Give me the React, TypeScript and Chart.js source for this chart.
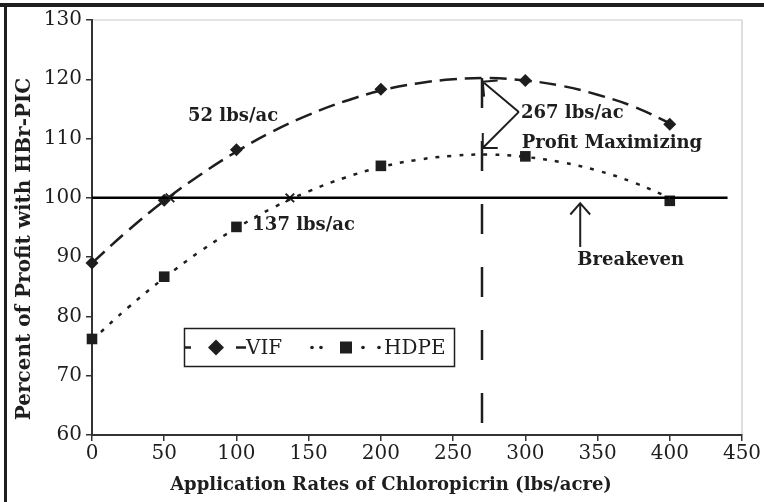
import React, { useEffect, useRef } from "react";
import { Chart, registerables } from "chart.js";

Chart.register(...registerables);

// ---------- data ----------
const rates = [0, 50, 100, 200, 300, 400];
const vifValues = [89.0, 99.6, 108.1, 118.3, 119.8, 112.4];
const hdpeValues = [76.2, 86.7, 95.1, 105.4, 107.0, 99.5];

// fitted curves as drawn in the picture (read every 25 lbs/acre)
const curveRates = [0, 25, 50, 75, 100, 125, 150, 175, 200, 225, 250, 275, 300, 325, 350, 375, 400];
const vifCurve = [89.0, 94.5, 99.5, 103.9, 107.8, 111.2, 114.0, 116.3, 118.1, 119.3, 120.0, 120.2, 119.8, 118.9, 117.4, 115.4, 112.6];
const hdpeCurve = [76.0, 81.5, 86.5, 91.0, 94.9, 98.3, 101.1, 103.4, 105.2, 106.4, 107.1, 107.3, 106.9, 106.0, 104.6, 102.6, 100.0];

const breakevenRates = [0, 440];
const breakevenValues = [100, 100];

const crossRates = [54, 137];
const crossValues = [100, 100];

const optimumRates = [270, 270];
const optimumValues = [120.2, 60];

const xMin = 0;
const xMax = 450;
const xStep = 50;
const yMin = 60;
const yMax = 130;
const yStep = 10;

const xTitle = "Application Rates of Chloropicrin (lbs/acre)";
const yTitle = "Percent of Profit with HBr-PIC";
const seriesNames = ["VIF", "HDPE"];

// annotation texts, anchored (left edge, vertical middle) in data units
const noteTexts = ["52 lbs/ac", "137 lbs/ac", "267 lbs/ac", "Profit Maximizing", "Breakeven"];
const noteX = [66.5, 111, 297, 297.5, 336];
const noteY = [113.8, 95.3, 114.2, 109.2, 89.4];

// arrows: tail -> tip in data units
const arrowTailX = [295.5, 295.5, 338];
const arrowTailY = [114.5, 114.5, 91.7];
const arrowTipX = [270.5, 270.5, 338];
const arrowTipY = [119.6, 108.4, 99.1];

const FONT = "'DejaVu Serif', serif";
const INK = "#1e1e1e";

function toPts(xs: number[], ys: number[]) {
  return xs.map((x, i) => ({ x, y: ys[i] }));
}

function drawArrow(ctx: CanvasRenderingContext2D, x1: number, y1: number, x2: number, y2: number, len: number, ang: number) {
  const a = Math.atan2(y2 - y1, x2 - x1);
  ctx.beginPath();
  ctx.moveTo(x1, y1);
  ctx.lineTo(x2, y2);
  ctx.moveTo(x2 - len * Math.cos(a - ang), y2 - len * Math.sin(a - ang));
  ctx.lineTo(x2, y2);
  ctx.lineTo(x2 - len * Math.cos(a + ang), y2 - len * Math.sin(a + ang));
  ctx.stroke();
}

const decorPlugin = {
  id: "decor",
  beforeDraw(chart: any) {
    const ctx = chart.ctx;
    ctx.save();
    ctx.fillStyle = "#ffffff";
    ctx.fillRect(0, 0, chart.width, chart.height);
    const { left, right, top, bottom } = chart.chartArea;
    ctx.strokeStyle = "#c9c9c9";
    ctx.lineWidth = 1.2;
    ctx.beginPath();
    ctx.moveTo(left, top);
    ctx.lineTo(right, top);
    ctx.lineTo(right, bottom);
    ctx.stroke();
    ctx.restore();
  },
  afterDraw(chart: any) {
    const ctx: CanvasRenderingContext2D = chart.ctx;
    const xs = chart.scales.x;
    const ys = chart.scales.y;
    ctx.save();
    // outer frame (top and left)
    ctx.fillStyle = INK;
    ctx.fillRect(0, 3, chart.width, 4);
    ctx.fillRect(4, 3, 3, chart.height);

    // axis titles
    ctx.fillStyle = INK;
    ctx.font = `bold 18px ${FONT}`;
    ctx.textAlign = "center";
    ctx.textBaseline = "alphabetic";
    ctx.fillText(xTitle, 391, 490);
    ctx.save();
    ctx.translate(30, 249);
    ctx.rotate(-Math.PI / 2);
    ctx.font = `bold 20px ${FONT}`;
    ctx.fillText(yTitle, 0, 0);
    ctx.restore();

    // annotations
    ctx.textAlign = "left";
    ctx.textBaseline = "middle";
    ctx.font = `bold 18px ${FONT}`;
    noteTexts.forEach((t, i) => {
      ctx.fillText(t, xs.getPixelForValue(noteX[i]), ys.getPixelForValue(noteY[i]));
    });

    // arrows
    ctx.strokeStyle = INK;
    ctx.lineWidth = 2;
    ctx.lineCap = "butt";
    arrowTailX.forEach((_, i) => {
      drawArrow(
        ctx,
        xs.getPixelForValue(arrowTailX[i]),
        ys.getPixelForValue(arrowTailY[i]),
        xs.getPixelForValue(arrowTipX[i]),
        ys.getPixelForValue(arrowTipY[i]),
        15,
        i === 2 ? 0.72 : 0.78
      );
    });

    // legend box
    const bx = 184, by = 328, bw = 270, bh = 38;
    ctx.fillStyle = "#ffffff";
    ctx.fillRect(bx, by, bw, bh);
    ctx.strokeStyle = INK;
    ctx.lineWidth = 1.5;
    ctx.strokeRect(bx + 0.5, by + 0.5, bw, bh);
    const my = by + bh / 2 + 0.5;
    // VIF sample
    ctx.lineWidth = 2.5;
    ctx.beginPath();
    ctx.moveTo(bx + 1, my);
    ctx.lineTo(bx + 7, my);
    ctx.moveTo(bx + 52, my);
    ctx.lineTo(bx + 62, my);
    ctx.stroke();
    ctx.fillStyle = INK;
    ctx.beginPath();
    const dx = bx + 32;
    ctx.moveTo(dx, my - 8);
    ctx.lineTo(dx + 8, my);
    ctx.lineTo(dx, my + 8);
    ctx.lineTo(dx - 8, my);
    ctx.closePath();
    ctx.fill();
    ctx.font = `20px ${FONT}`;
    ctx.textBaseline = "middle";
    ctx.fillText(seriesNames[0], bx + 62, my + 1);
    // HDPE sample
    [bx + 128, bx + 137, bx + 179, bx + 195].forEach((cx) => {
      ctx.beginPath();
      ctx.arc(cx, my, 1.8, 0, Math.PI * 2);
      ctx.fill();
    });
    ctx.fillRect(bx + 156, my - 6, 12, 12);
    ctx.fillText(seriesNames[1], bx + 200, my + 1);
    ctx.restore();
  },
};

export default function App() {
  const ref = useRef<HTMLCanvasElement | null>(null);

  useEffect(() => {
    if (!ref.current) return;
    const chart = new Chart(ref.current, {
      type: "scatter",
      data: {
        datasets: [
          {
            label: "VIF curve",
            data: toPts(curveRates, vifCurve),
            showLine: true,
            borderColor: INK,
            borderWidth: 2.5,
            borderDash: [17, 8],
            pointRadius: 0,
            tension: 0.4,
            fill: false,
          },
          {
            label: "HDPE curve",
            data: toPts(curveRates, hdpeCurve),
            showLine: true,
            borderColor: INK,
            borderWidth: 2.5,
            borderDash: [4, 8],
            pointRadius: 0,
            tension: 0.4,
            fill: false,
          },
          {
            label: "Breakeven",
            data: toPts(breakevenRates, breakevenValues),
            showLine: true,
            borderColor: "#000",
            borderWidth: 2.5,
            pointRadius: 0,
          },
          {
            label: "Optimum",
            data: toPts(optimumRates, optimumValues),
            showLine: true,
            borderColor: INK,
            borderWidth: 2.5,
            borderDash: [30, 33],
            pointRadius: 0,
          },
          {
            label: seriesNames[0],
            data: toPts(rates, vifValues),
            showLine: false,
            pointStyle: "rectRot",
            pointRadius: 6.5,
            backgroundColor: INK,
            borderColor: INK,
            borderWidth: 0,
            clip: false as any,
          },
          {
            label: seriesNames[1],
            data: toPts(rates, hdpeValues),
            showLine: false,
            pointStyle: "rect",
            pointRadius: 7.5,
            backgroundColor: INK,
            borderColor: INK,
            borderWidth: 0,
            clip: false as any,
          },
          {
            label: "Crossings",
            data: toPts(crossRates, crossValues),
            showLine: false,
            pointStyle: "crossRot",
            pointRadius: 6,
            borderColor: INK,
            borderWidth: 2,
            clip: false as any,
          },
        ],
      },
      options: {
        animation: false,
        responsive: false,
        devicePixelRatio: 1,
        layout: { padding: { left: 0, top: 20, right: 22, bottom: 0 } },
        plugins: {
          legend: { display: false },
          tooltip: { enabled: false },
          title: { display: false },
        },
        scales: {
          x: {
            type: "linear",
            min: xMin,
            max: xMax,
            ticks: {
              stepSize: xStep,
              color: INK,
              font: { family: FONT, size: 20 },
              padding: 1,
              maxRotation: 0,
            },
            grid: { drawOnChartArea: false, drawTicks: true, tickLength: 6, color: "#333", lineWidth: 1.5 },
            border: { color: "#333", width: 2 },
            afterFit: (s: any) => {
              s.height = 67;
            },
          },
          y: {
            type: "linear",
            min: yMin,
            max: yMax,
            ticks: {
              stepSize: yStep,
              color: INK,
              font: { family: FONT, size: 20 },
              padding: 4,
            },
            grid: { drawOnChartArea: false, drawTicks: true, tickLength: 6, color: "#333", lineWidth: 1.5 },
            border: { color: "#333", width: 2 },
            afterFit: (s: any) => {
              s.width = 92;
            },
          },
        },
      },
      plugins: [decorPlugin],
    });
    return () => chart.destroy();
  }, []);

  return (
    <div style={{ position: "fixed", left: 0, top: 0, width: 764, height: 502, background: "#fff" }}>
      <canvas ref={ref} width={764} height={502} style={{ width: 764, height: 502, display: "block" }} />
    </div>
  );
}
